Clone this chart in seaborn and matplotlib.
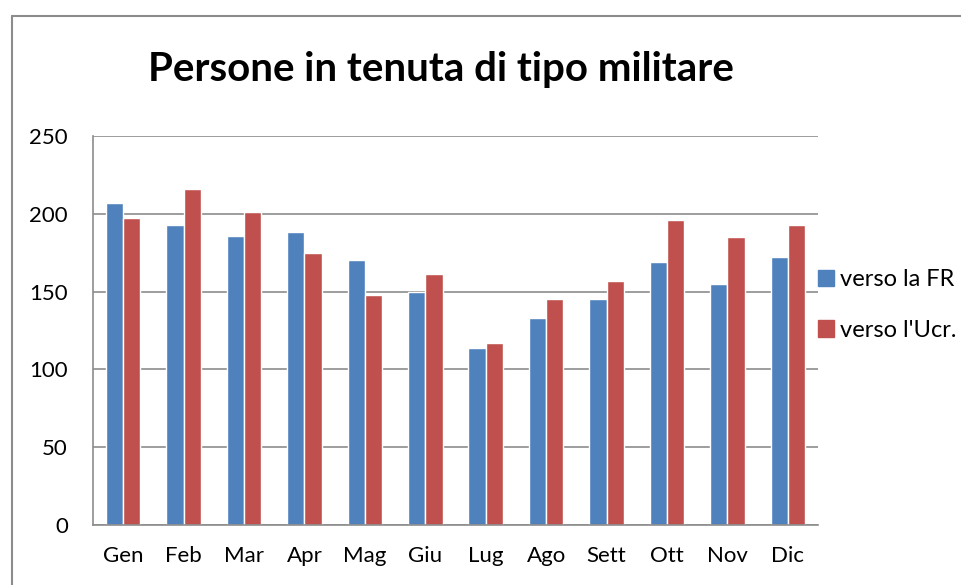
import pandas as pd
import matplotlib
matplotlib.use("Agg")
import matplotlib.pyplot as plt
import seaborn as sns
from matplotlib.patches import Rectangle
from matplotlib.lines import Line2D

mesi = ["Gen", "Feb", "Mar", "Apr", "Mag", "Giu", "Lug", "Ago", "Sett", "Ott", "Nov", "Dic"]
verso_fr = [207, 193, 186, 188, 170, 150, 114, 133, 145, 169, 155, 172]
verso_ucr = [197, 216, 201, 175, 148, 161, 117, 145, 157, 196, 185, 193]
serie = ["verso la FR", "verso l'Ucr."]
colori = ["#4F81BD", "#C0504D"]

df = pd.DataFrame({
    "mese": mesi * 2,
    "valore": verso_fr + verso_ucr,
    "serie": [serie[0]] * len(mesi) + [serie[1]] * len(mesi),
})

sns.set_style("white")
plt.rcParams["font.family"] = ["Lato", "DejaVu Sans"]
plt.rcParams["text.color"] = "black"
plt.rcParams["xtick.labelcolor"] = "black"
plt.rcParams["ytick.labelcolor"] = "black"

fig = plt.figure(figsize=(9.62, 5.85), dpi=100)
ax = fig.add_axes([93 / 962, 1 - 525 / 585, (818 - 93) / 962, (525 - 136) / 585])

sns.barplot(data=df, x="mese", y="valore", hue="serie", palette=colori,
            width=0.57, gap=0, saturation=1, ax=ax, legend=False)

ax.set_ylim(0, 250)
ax.set_xlim(-0.5, len(mesi) - 0.5)
ax.set_yticks(range(0, 251, 50))
ax.yaxis.grid(True, color="#8c8c8c", linewidth=1.2)
ax.set_axisbelow(True)
ax.set_xlabel("")
ax.set_ylabel("")

for s in ["top", "right"]:
    ax.spines[s].set_visible(False)
for s in ["left", "bottom"]:
    ax.spines[s].set_color("#8c8c8c")
    ax.spines[s].set_linewidth(1.2)

ax.tick_params(axis="y", labelsize=16, length=5, color="#8c8c8c", width=1.2, pad=13,
               labelcolor="black")
ax.tick_params(axis="x", which="major", labelsize=16, length=0, pad=15, labelcolor="black")
ax.set_xticks([i - 0.5 for i in range(len(mesi) + 1)], minor=True)
ax.tick_params(axis="x", which="minor", length=6, color="#8c8c8c", width=1.2)

fig.text(441 / 962, 1 - 70 / 585, "Persone in tenuta di tipo militare",
         ha="center", va="center", fontsize=29, fontweight="bold", color="black")

handles = [Rectangle((0, 0), 1, 1, color=c) for c in colori]
leg = fig.legend(handles, serie, loc="center left", bbox_to_anchor=(806 / 962, 1 - 305 / 585),
                 frameon=False, fontsize=17, handlelength=0.7, handleheight=0.7,
                 handletextpad=0.25, labelspacing=1.25, borderpad=0)
for t in leg.get_texts():
    t.set_color("black")

# bordo del grafico (solo sinistra e sopra visibili)
fig.add_artist(Line2D([12 / 962, 12 / 962], [0, 1 - 16 / 585], transform=fig.transFigure,
                      color="#8c8c8c", linewidth=1.5))
fig.add_artist(Line2D([12 / 962, 1], [1 - 16 / 585, 1 - 16 / 585], transform=fig.transFigure,
                      color="#8c8c8c", linewidth=1.5))

fig.savefig("out.png", dpi=100)
